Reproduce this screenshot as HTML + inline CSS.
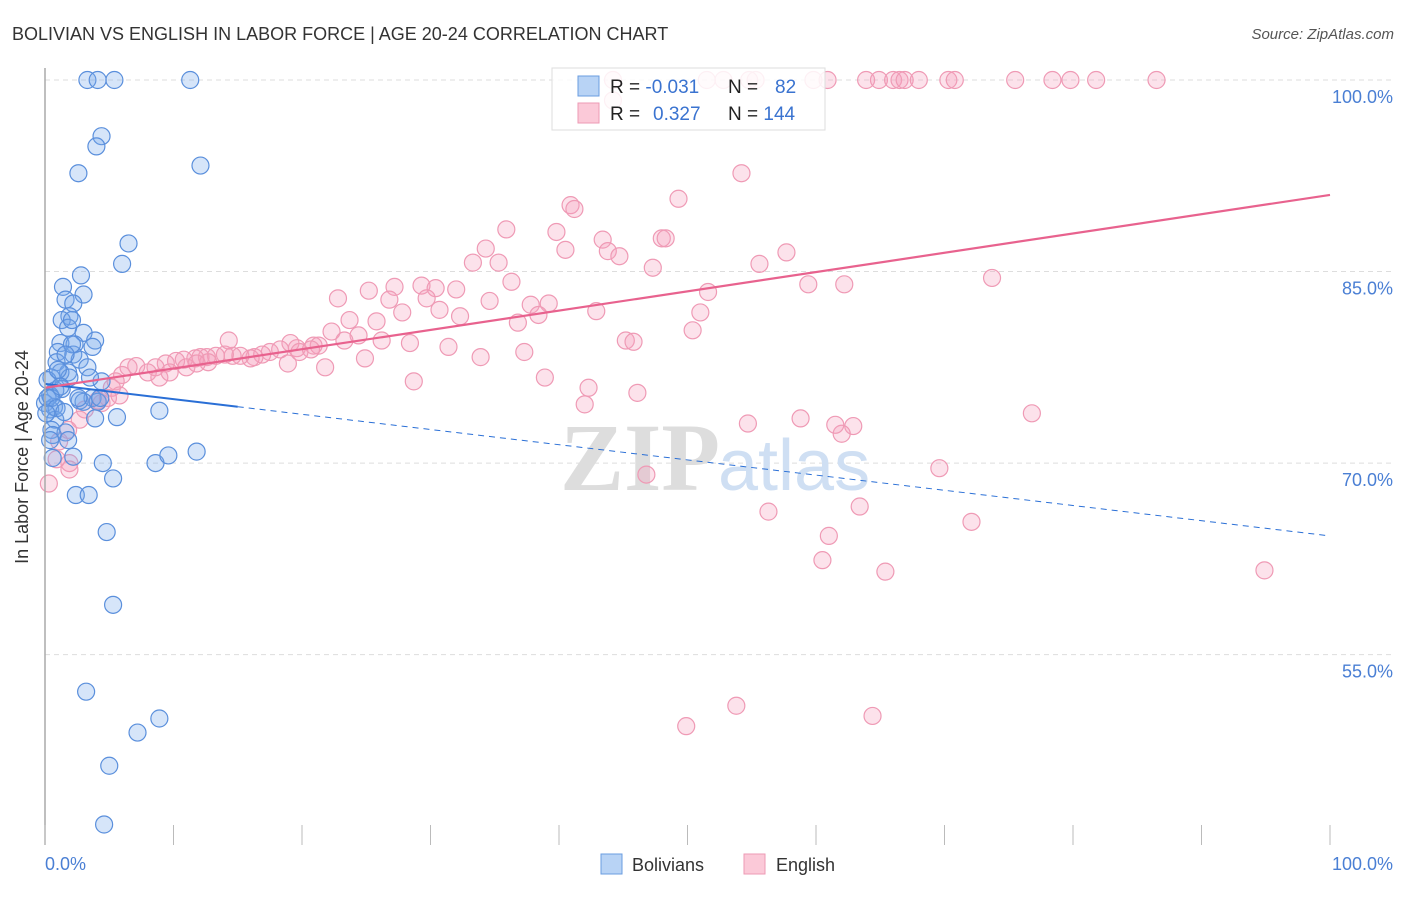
<!DOCTYPE html>
<html><head><meta charset="utf-8"><style>
body{margin:0;background:#fff;font-family:"Liberation Sans",sans-serif;}
</style></head><body>
<svg width="1406" height="892" xmlns="http://www.w3.org/2000/svg">
<text x="12" y="40" font-size="18" fill="#333">BOLIVIAN VS ENGLISH IN LABOR FORCE | AGE 20-24 CORRELATION CHART</text>
<text x="1394" y="39" font-size="15" fill="#555" font-style="italic" text-anchor="end">Source: ZipAtlas.com</text>
<g id="grid"></g>
<text x="720" y="490" font-size="96" font-family="Liberation Serif,serif" fill="#ddd" text-anchor="end" font-weight="bold">ZIP</text>
<text x="718" y="490" font-size="72" fill="#cfdff3">atlas</text>
<g id="pts"></g>
<g id="lines"></g>
<line x1="45" y1="68" x2="45" y2="845" stroke="#aaa" stroke-width="1.5"/>
<g id="xt"></g>
<text x="28" y="457" font-size="18" fill="#333" text-anchor="middle" transform="rotate(-90 28 457)">In Labor Force | Age 20-24</text>
<text x="45" y="870" font-size="18" fill="#4a7fd4">0.0%</text>
<text x="1393" y="870" font-size="18" fill="#4a7fd4" text-anchor="end">100.0%</text>
<g>
<rect x="552" y="68" width="273" height="62" fill="#fff" fill-opacity="0.85" stroke="#ddd"/>
<rect x="578" y="76" width="21" height="20" fill="#b8d3f5" stroke="#6a9de0"/>
<rect x="578" y="103" width="21" height="20" fill="#fbc9d8" stroke="#ee9ab4"/>
<text x="610" y="93" font-size="19" fill="#222">R = <tspan fill="#3a73d0">-0.031</tspan></text>
<text x="728" y="93" font-size="19" fill="#222">N = <tspan fill="#3a73d0" x="775">82</tspan></text>
<text x="610" y="120" font-size="19" fill="#222">R = <tspan fill="#3a73d0" x="653">0.327</tspan></text>
<text x="728" y="120" font-size="19" fill="#222">N = <tspan fill="#3a73d0">144</tspan></text>
</g>
<g>
<rect x="601" y="854" width="21" height="20" fill="#b8d3f5" stroke="#6a9de0"/>
<text x="632" y="871" font-size="18" fill="#333">Bolivians</text>
<rect x="744" y="854" width="21" height="20" fill="#fbc9d8" stroke="#ee9ab4"/>
<text x="776" y="871" font-size="18" fill="#333">English</text>
</g>
</svg>
<script>
const yTicks=[100,85,70,55];
const yTickLabels=["100.0%","85.0%","70.0%","55.0%"];
const blueX=[3.3,4.1,5.4,11.3,4.4,4.0,2.6,12.1,6.5,6.0,2.8,3.0,1.4,1.6,2.2,1.9,1.3,1.8,3.0,3.9,1.2,2.3,3.7,1.0,2.2,2.7,0.9,3.3,1.8,1.2,0.5,1.9,4.4,1.3,0.8,0.4,2.7,3.7,4.1,0.0,0.7,0.4,5.6,3.9,8.9,0.8,0.5,1.6,0.6,0.6,2.2,4.5,8.6,9.6,11.8,5.3,2.4,3.4,4.8,5.3,3.2,8.9,7.2,5.0,4.6,0.2,0.2,0.5,1.2,2.1,1.6,0.9,3.0,4.3,1.8,0.4,2.1,1.5,1.0,3.5,2.6,0.1];
const blueY=[100,100,100,100,95.6,94.8,92.7,93.3,87.2,85.6,84.7,83.2,83.8,82.8,82.5,81.5,81.2,80.6,80.2,79.6,79.4,79.3,79.1,78.7,78.5,78.1,77.9,77.5,77.1,77.1,76.7,76.7,76.4,75.8,75.7,75.3,74.9,75.1,74.8,74.7,74.4,74.2,73.6,73.5,74.1,73.4,72.6,72.4,72.2,70.4,70.5,70.0,70.0,70.6,70.9,68.8,67.5,67.5,64.6,58.9,52.1,50.0,48.9,46.3,41.7,76.5,75.1,75.1,76.0,79.3,78.5,74.3,74.8,75.1,71.8,71.8,81.2,74.0,77.3,76.7,75.1,73.9];
const pinkX=[44.2,51.5,52.8,54.8,55.3,59.8,60.9,63.9,64.9,66.0,66.5,66.9,68.0,70.3,70.8,75.5,78.4,79.8,81.8,86.5,44.2,54.2,49.3,40.9,41.2,35.9,39.8,43.4,48.0,48.3,34.3,40.5,43.8,44.7,33.3,35.3,47.3,55.6,57.7,73.7,36.3,59.4,62.2,51.6,29.3,27.2,30.4,22.8,25.2,26.8,29.7,32.0,34.6,37.8,39.2,30.7,27.8,32.3,38.4,42.9,51.0,23.7,25.8,36.8,50.4,22.3,24.4,26.2,28.4,31.4,23.3,20.9,19.6,21.3,19.1,18.3,17.5,16.9,16.3,16.0,15.2,14.6,14.0,13.3,12.6,12.1,11.7,10.8,10.2,9.4,8.6,8.0,7.1,6.5,6.0,5.5,14.3,12.7,18.9,21.8,24.9,33.9,37.3,45.2,45.8,38.9,28.7,42.3,42.0,46.1,54.7,58.8,62.9,62.0,61.5,76.8,69.6,46.8,72.1,56.3,63.4,61.0,60.5,65.4,94.9,53.8,64.4,49.9,4.4,4.1,3.1,2.7,1.8,1.1,0.9,1.9,1.9,0.3,5.2,8.9,9.7,4.9,5.8,11.0,11.8,19.8,20.7];
const pinkY=[100,100,100,100,100,100,100,100,100,100,100,100,100,100,100,100,100,100,100,100,98.4,92.7,90.7,90.2,89.9,88.3,88.1,87.5,87.6,87.6,86.8,86.7,86.6,86.2,85.7,85.7,85.3,85.6,86.5,84.5,84.2,84.0,84.0,83.4,83.9,83.8,83.7,82.9,83.5,82.8,82.9,83.6,82.7,82.4,82.5,82.0,81.8,81.5,81.6,81.9,81.8,81.2,81.1,81.0,80.4,80.3,80.0,79.6,79.4,79.1,79.6,79.2,79.0,79.2,79.4,78.9,78.7,78.5,78.3,78.2,78.4,78.4,78.5,78.4,78.3,78.3,78.2,78.1,78.0,77.8,77.5,77.1,77.6,77.5,76.9,76.4,79.6,77.9,77.8,77.5,78.2,78.3,78.7,79.6,79.5,76.7,76.4,75.9,74.6,75.5,73.1,73.5,72.9,72.3,73.0,73.9,69.6,69.1,65.4,66.2,66.6,64.3,62.4,61.5,61.6,51.0,50.2,49.4,74.7,74.9,74.2,73.4,72.6,71.7,70.3,70.0,69.5,68.4,75.9,76.7,77.1,75.1,75.3,77.5,77.8,78.7,78.9];
const blueTrend=[76.2,64.3]; // value at x=0 and x=100
const blueSolidEnd=15;
const pinkTrend=[75.9,91.0];
const xTicks=[0,10,20,30,40,50,60,70,80,90,100];

const NS="http://www.w3.org/2000/svg";
const sx=v=>45+v*12.85;
const sy=v=>80+(100-v)*12.77;
function mk(tag,attrs,parent){const e=document.createElementNS(NS,tag);for(const k in attrs)e.setAttribute(k,attrs[k]);parent.appendChild(e);return e;}
const grid=document.getElementById('grid');
yTicks.forEach((t,i)=>{
  const l=mk('line',{x1:45,x2:1394,y1:sy(t),y2:sy(t),stroke:'#ddd','stroke-dasharray':'5,4'},grid);
  
  
  const tx=mk('text',{x:1393,y:sy(t)+23,'font-size':18,fill:'#4a7fd4','text-anchor':'end'},grid);
  tx.textContent=yTickLabels[i];
  
  
});
const xt=document.getElementById('xt');
xTicks.forEach(t=>{
  const l=mk('line',{x1:sx(t),x2:sx(t),y1:825,y2:845,stroke:'#bbb'},xt);
  
  
});
const pts=document.getElementById('pts');
pinkX.forEach((x,i)=>{
  const c=mk('circle',{cx:sx(x),cy:sy(pinkY[i]),r:8.5,fill:'rgba(246,160,188,0.3)',stroke:'#ef9ab5','stroke-width':1.2},pts);
  
  
});
blueX.forEach((x,i)=>{
  const c=mk('circle',{cx:sx(x),cy:sy(blueY[i]),r:8.5,fill:'rgba(120,170,235,0.3)',stroke:'#5a8fdc','stroke-width':1.2},pts);
  
  
});
const lines=document.getElementById('lines');
const bAt=x=>blueTrend[0]+(blueTrend[1]-blueTrend[0])*x/100;
let l1=mk('line',{x1:sx(0),y1:sy(bAt(0)),x2:sx(blueSolidEnd),y2:sy(bAt(blueSolidEnd)),stroke:'#2a6fd6','stroke-width':2},lines);


let l2=mk('line',{x1:sx(blueSolidEnd),y1:sy(bAt(blueSolidEnd)),x2:sx(100),y2:sy(bAt(100)),stroke:'#2a6fd6','stroke-width':1,'stroke-dasharray':'6,5'},lines);


let l3=mk('line',{x1:sx(0),y1:sy(pinkTrend[0]),x2:sx(100),y2:sy(pinkTrend[1]),stroke:'#e8628e','stroke-width':2.2},lines);


</script>
</body></html>
